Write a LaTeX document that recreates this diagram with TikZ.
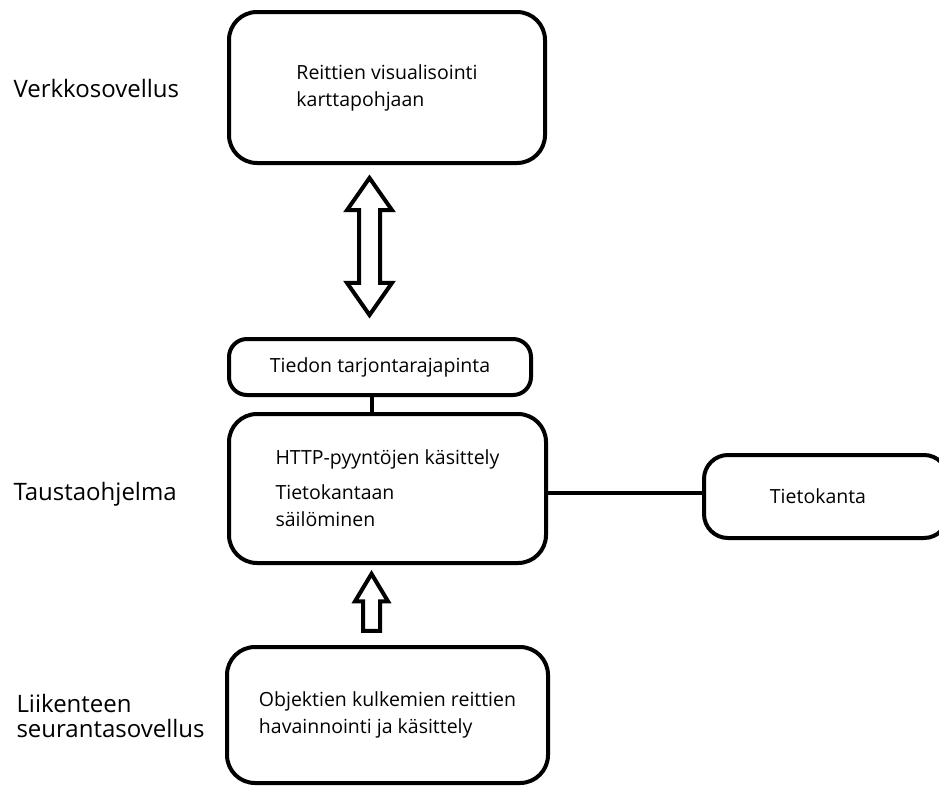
\documentclass[tikz,border=0pt]{standalone}
\usepackage{fontspec}
\setmainfont{Open Sans}
\usetikzlibrary{shapes.arrows}

\begin{document}
\begin{tikzpicture}[
	x=1pt, y=-1pt,
	box/.style={
		draw,
		line width=4pt,
		rounded corners=28pt,
		align=left,
		font=\fontsize{19.5}{27}\selectfont
	},
	layer/.style={
		align=left,
		font=\fontsize{24}{25}\selectfont
	},
	link/.style={
		draw,
		line width=4pt
	},
	hollow/.style={
		draw,
		line width=4pt,
		fill=white,
		miter limit=10
	}
	]
	\useasboundingbox (0,0) rectangle (939,787);
	\clip (0,0) rectangle (939,787);
	% Layers
	\node[layer, anchor=base west] (lweb) at (10,97) {Verkkosovellus};
	\node[layer, anchor=base west] (lback) at (10,500) {Taustaohjelma};
	\node[layer, anchor=west] (ltrack) at (13,716) {Liikenteen\\seurantasovellus};
	% Components
	\node[box, minimum width=316, minimum height=151] (web) at (387,87.5)
		{Reittien visualisointi\\karttapohjaan};
	\node[box, rounded corners=18pt, minimum width=302, minimum height=56] (api) at (380,367)
		{Tiedon tarjontarajapinta};
	\node[box, minimum width=317, minimum height=149] (main) at (387.5,488.5)
		{HTTP-pyyntöjen käsittely\\[8pt]Tietokantaan\\säilöminen};
	\node[box, rounded corners=24pt, minimum width=244, minimum height=83] (db) at (826,496.5)
		{Tietokanta\hspace*{16pt}};
	\node[box, minimum width=321, minimum height=136] (track) at (387.5,715)
		{Objektien kulkemien reittien\\havainnointi ja käsittely};
	% Arrows
	\node[hollow, double arrow, rotate=90, inner sep=8.5pt, minimum height=137,
		minimum width=41, double arrow head extend=12pt, double arrow tip angle=70]
		(sync) at (369.5,246.5) {};
	\node[hollow, single arrow, rotate=90, anchor=tip, inner sep=6.5pt, minimum height=57,
		minimum width=29, single arrow head extend=8pt, single arrow tip angle=62]
		(feed) at (371.5,570) {};
	% Connections
	\draw[link] ([xshift=-8pt]api.south) -- ([xshift=-8pt]api.south |- main.north);
	\draw[link] ([yshift=-4.5pt]main.east) -- ([yshift=-4.5pt]main.east -| db.west);
\end{tikzpicture}
\end{document}
